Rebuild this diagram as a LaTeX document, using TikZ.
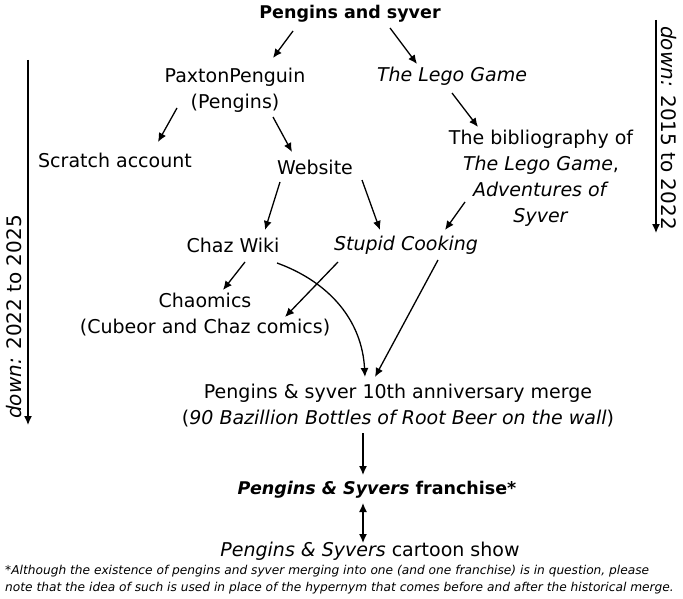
\documentclass[tikz,border=0pt]{standalone}
\usepackage{fontspec}
\setmainfont{DejaVu Sans}
\usetikzlibrary{arrows.meta}
\tikzset{
  lbl/.style={font=\fontsize{19}{26}\selectfont, align=center, inner sep=1pt},
  ttl/.style={font=\bfseries\fontsize{17.5}{22}\selectfont, inner sep=1pt},
  side/.style={font=\fontsize{20}{22}\selectfont, inner sep=0pt},
  note/.style={font=\itshape\fontsize{12.2}{17}\selectfont, align=left, anchor=north west, inner sep=0pt},
  arr/.style={-{Latex[length=9pt,width=8pt]}, line width=1.3pt},
  darr/.style={{Latex[length=9pt,width=8pt]}-{Latex[length=9pt,width=8pt]}, line width=1.3pt}
}

\begin{document}
\begin{tikzpicture}[x=1pt,y=-1pt]
\useasboundingbox[fill=white] (0,0) rectangle (683,599);

\node[ttl] (top) at (350,14) {Pengins and syver};
\node[lbl] (pax) at (235,90) {PaxtonPenguin\\(Pengins)};
\node[lbl] (lego) at (452,76) {\itshape The Lego Game};
\node[lbl] (scratch) at (115,160) {Scratch account};
\node[lbl] (web) at (315,167) {Website};
\node[lbl] (biblio) at (541,178) {The bibliography of\\\textit{The Lego Game},\\\textit{Adventures of}\\\textit{Syver}};
\node[lbl] (wiki) at (233,245) {Chaz Wiki};
\node[lbl] (cook) at (406,245) {\itshape Stupid Cooking};
\node[lbl] (chao) at (205,315) {Chaomics\\(Cubeor and Chaz comics)};
\node[lbl] (merge) at (398,406) {Pengins \& syver 10th anniversary merge\\(\textit{90 Bazillion Bottles of Root Beer on the wall})};
\node[ttl] (fran) at (377,490) {\textit{Pengins \& Syvers} franchise*};
\node[lbl] (show) at (370,551) {\textit{Pengins \& Syvers} cartoon show};
\node[note] (fn) at (5,565) {*Although the existence of pengins and syver merging into one (and one franchise) is in question, please\\note that the idea of such is used in place of the hypernym that comes before and after the historical merge.};

\coordinate (ltop) at (28,60);
\coordinate (lbot) at (28,425);
\coordinate (rtop) at (656,20);
\coordinate (rbot) at (656,233);
\draw[arr] (ltop) -- (lbot);
\draw[arr] (rtop) -- (rbot);
\node[side, rotate=90] (lnote) at (14,317) {\textit{down:} 2022 to 2025};
\node[side, rotate=-90] (rnote) at (669,128) {\textit{down:} 2015 to 2022};

\draw[arr] ([shift={(-57,17)}]top.center) -- ([shift={(38,-32)}]pax.center);
\draw[arr] ([shift={(40,14)}]top.center) -- ([shift={(-35,-12)}]lego.center);
\draw[arr] ([shift={(-58,18)}]pax.center) -- ([shift={(43,-18)}]scratch.center);
\draw[arr] ([shift={(38,27)}]pax.center) -- ([shift={(-23,-15)}]web.center);
\draw[arr] ([shift={(-35,15)}]web.center) -- ([shift={(32,-15)}]wiki.center);
\draw[arr] ([shift={(47,13)}]web.center) -- ([shift={(-26,-15)}]cook.center);
\draw[arr] ([shift={(0,17)}]lego.center) -- ([shift={(-63,-51)}]biblio.center);
\draw[arr] ([shift={(-76,24)}]biblio.center) -- ([shift={(39,-15)}]cook.center);
\draw[arr] ([shift={(12,17)}]wiki.center) -- ([shift={(18,-25)}]chao.center);
\draw[arr] ([shift={(-68,17)}]cook.center) -- ([shift={(80,2)}]chao.center);
\draw[arr] ([shift={(44,18)}]wiki.center) to[out=-20,in=93] ([shift={(-33,-29)}]merge.center);
\draw[arr] ([shift={(32,15)}]cook.center) -- ([shift={(-23,-29)}]merge.center);
\draw[arr] ([shift={(-35,27)}]merge.center) -- ([shift={(-14,-15)}]fran.center);
\draw[darr] ([shift={(-14,13)}]fran.center) -- ([shift={(-7,-8)}]show.center);
\end{tikzpicture}
\end{document}
